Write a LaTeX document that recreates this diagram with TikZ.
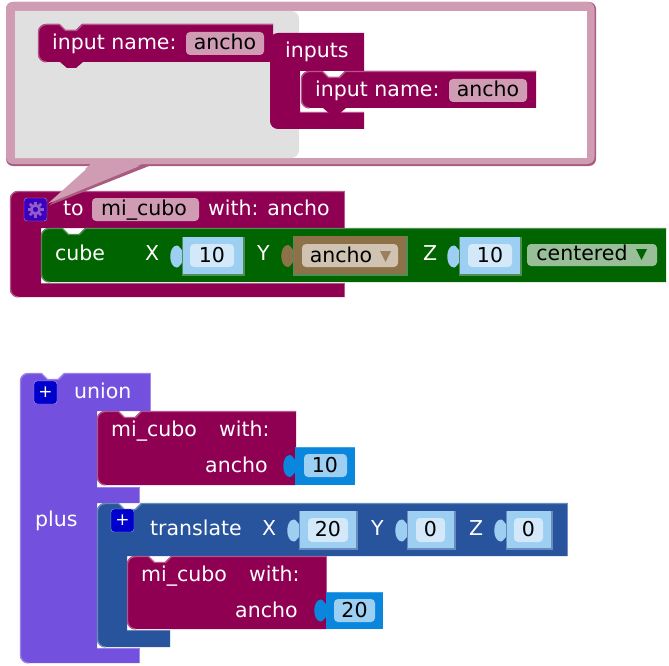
\documentclass[tikz,border=0pt]{standalone}
\usepackage{fontspec}
\setmainfont{DejaVu Sans}
\usepackage{tikz}
\usetikzlibrary{
    arrows.meta,
    positioning,
    calc
}
\definecolor{procmag}{HTML}{900052}
\definecolor{proclight}{HTML}{B5568A}
\definecolor{bubblepink}{HTML}{D09CB3}
\definecolor{bubbledark}{HTML}{A85C80}
\definecolor{cubegreen}{HTML}{006400}
\definecolor{cubelight}{HTML}{4F8F55}
\definecolor{unionpurple}{HTML}{7450DF}
\definecolor{unionlight}{HTML}{9A80E8}
\definecolor{transblue}{HTML}{27549C}
\definecolor{translight}{HTML}{6A8CBC}
\definecolor{numlight}{HTML}{9CCFF2}
\definecolor{numfield}{HTML}{D3E9F9}
\definecolor{numblue}{HTML}{0A86DC}
\definecolor{numtop}{HTML}{3FA3E8}
\definecolor{varbrown}{HTML}{8C7149}
\definecolor{varfield}{HTML}{D0C3B2}
\definecolor{fieldgreen}{HTML}{99BF99}
\definecolor{gearblue}{HTML}{3A00BE}
\definecolor{gearcog}{HTML}{8F5CC8}
\definecolor{plusblue}{HTML}{0000CC}
% pieces of block outlines
\newcommand{\roundfoot}[2]{(#1+8,#2) .. controls (#1+3.5,#2) and (#1,#2-3.5) .. (#1,#2-8)}
\newcommand{\roundnotch}[2]{.. controls (#1,#2+3.5) and (#1+3.5,#2) .. (#1+8,#2) -- (#1+21,#2) -- (#1+27,#2+6) -- (#1+38,#2+6) -- (#1+44,#2)}
% a value socket with its puzzle tab
\newcommand{\valueblock}[6]{%
  \fill[#6] (#1+1,{(#2+#4)/2-6}) .. controls (#1-3,{(#2+#4)/2-6}) and (#1-3,{(#2+#4)/2-11}) .. (#1-6,{(#2+#4)/2-11}) .. controls (#1-15,{(#2+#4)/2-11}) and (#1-15,{(#2+#4)/2+11}) .. (#1-6,{(#2+#4)/2+11}) .. controls (#1-3,{(#2+#4)/2+11}) and (#1-3,{(#2+#4)/2+6}) .. (#1+1,{(#2+#4)/2+6}) -- cycle;
  \fill[#5] (#1-1,#2) rectangle (#3,#4);
  \fill[#6] (#1,#2) rectangle (#3-2,#4-2);
}
\begin{document}
\begin{tikzpicture}[
    x=1pt,y=-1pt,
    label/.style={text=white,font=\fontsize{20.5}{22}\selectfont,inner sep=0pt,anchor=base west},
    fieldtext/.style={text=black,font=\fontsize{20.5}{22}\selectfont,inner sep=0pt,anchor=base},
    field/.style={rounded corners=4pt},
    edge/.style={line width=1.3pt},
    btntext/.style={text=white,font=\fontsize{17}{18}\selectfont,inner sep=0pt}
]
\useasboundingbox (0,0) rectangle (669,666);

% procedure definition
\fill[procmag] \roundfoot{10}{297} -- (10,199) .. controls (10,194.5) and (13.5,191) .. (18,191) -- (344.5,191) -- (344.5,228) -- (41,228) -- (41,283) -- (344.5,283) -- (344.5,297) -- cycle;
\draw[edge,draw=proclight] \roundfoot{10.5}{297} -- (10.5,199) .. controls (10.5,194.5) and (14,191.5) .. (18,191.5) -- (344.5,191.5);
\draw[edge,draw=proclight] (41,283.5) -- (344.5,283.5);

% mutator bubble
\fill[bubbledark] (93,166) -- (149,166) -- (49,205.5) -- cycle;
\fill[bubblepink] (93,163) -- (147,163) -- (48,203.5) -- cycle;
\fill[bubbledark,rounded corners=7pt] (6,2) rectangle (596,166);
\fill[bubblepink,rounded corners=7pt] (6,2) rectangle (594.5,164);
\fill[bubblepink] (93,162) -- (147,162) -- (130,169) -- (85,169) -- cycle;
\fill[white] (15,11) rectangle (587,158);
\fill[black!12] (15,11) -- (291,11) .. controls (295.5,11) and (299,14.5) .. (299,19) -- (299,150) .. controls (299,154.5) and (295.5,158) .. (291,158) -- (15,158) -- cycle;

% input block in the flyout
\fill[procmag] \roundfoot{38}{62} -- (38,32) \roundnotch{38}{24} -- (273,24) -- (273,62) -- (83,62) -- (76,68) -- (67,68) -- (60,62) -- cycle;
\draw[edge,draw=proclight] \roundfoot{38.5}{62} -- (38.5,32) \roundnotch{38.5}{24.5} -- (273,24.5);

% inputs container
\fill[procmag] \roundfoot{270}{129} -- (270,41) .. controls (270,36.5) and (273.5,33) .. (278,33) -- (364,33) -- (364,71) -- (300,71) -- (300,112) -- (364,112) -- (364,129) -- cycle;
\draw[edge,draw=proclight] (300,112.5) -- (364,112.5);
\fill[procmag] \roundfoot{301}{108} -- (301,79) \roundnotch{301}{71} -- (536,71) -- (536,108) -- (346,108) -- (339,114) -- (330,114) -- (323,108) -- cycle;
\draw[edge,draw=proclight] \roundfoot{301.5}{108} -- (301.5,79) \roundnotch{301.5}{71.5} -- (536,71.5);

\fill[bubblepink,field] (186,32) rectangle (264,55);
\fill[bubblepink,field] (449,79) rectangle (527,102);

\node[label] (flyname) at (52,50) {input name:};
\node[fieldtext] (flyarg) at (225,50) {ancho};
\node[label] (inputslab) at (285,58) {inputs};
\node[label] (innername) at (315,97) {input name:};
\node[fieldtext] (innerarg) at (488,97) {ancho};

% cube statement
\fill[cubegreen] \roundfoot{41}{282} -- (41,236) \roundnotch{41}{228} -- (666,228) -- (666,282) -- cycle;
\draw[edge,draw=cubelight] \roundfoot{41.5}{282} -- (41.5,236) \roundnotch{41.5}{228.5} -- (666,228.5);

% gear button
\draw[draw=gearcog!70!white,fill=gearblue,rounded corners=3pt] (24,198) rectangle (47,221);
\foreach \a in {0,45,...,315}
    \draw[gearcog,line width=2.8pt] (35.5,209.5) ++(\a:5) -- ++(\a:3);
\draw[gearcog,line width=2.8pt] (35.5,209.5) circle[radius=4.2];

\fill[bubblepink,field] (92,198) rectangle (199,221);
\node[label] (tolab) at (63,215) {to};
\node[fieldtext] (procname) at (144,215) {mi\_cubo};
\node[label] (withlab) at (208,215) {with: ancho};

\node[label] (cubelab) at (55,260) {cube};
\node[label] (xlab) at (145,260) {X};
\node[label] (ylab) at (257,260) {Y};
\node[label] (zlab) at (423,260) {Z};

\valueblock{183}{237}{245}{276}{cubelight}{numlight}
\valueblock{294}{236}{408}{276}{cubelight}{varbrown}
\valueblock{460}{237}{522}{276}{cubelight}{numlight}
\fill[numfield,field] (190,244) rectangle (234,267);
\fill[numfield,field] (468,244) rectangle (512,267);
\fill[varfield,field] (302,244) rectangle (398,267);
\fill[fieldgreen,field] (527,244) rectangle (657,266);
\fill[varbrown!80!varfield] (380,251) -- (391,251) -- (385.5,262) -- cycle;
\fill[cubegreen] (636,249) -- (647,249) -- (641.5,260) -- cycle;
\node[fieldtext] (xval) at (212,262) {10};
\node[fieldtext] (yval) at (341,262) {ancho};
\node[fieldtext] (zval) at (490,262) {10};
\node[fieldtext] (centerval) at (582,260) {centered};

% union block
\fill[unionpurple] \roundfoot{20}{663} -- (20,381) \roundnotch{20}{373} -- (150.5,373) -- (150.5,411) -- (97,411) -- (97,487) -- (139.5,487) -- (139.5,503) -- (97,503) -- (97,648) -- (139.5,648) -- (139.5,663) -- cycle;
\draw[edge,draw=unionlight] \roundfoot{20.5}{663} -- (20.5,381) \roundnotch{20.5}{373.5} -- (150.5,373.5);
\draw[edge,draw=unionlight] (97,487.5) -- (139.5,487.5);
\draw[edge,draw=unionlight] (97,648.5) -- (139.5,648.5);

\draw[draw=unionlight!70!white,fill=plusblue,rounded corners=3pt] (34,381) rectangle (57,404);
\node[btntext] (unionplus) at (45.5,392) {+};
\node[label] (unionlab) at (74,398) {union};
\node[label] (pluslab) at (35,526) {plus};

% first call block
\fill[procmag] \roundfoot{97}{485} -- (97,419) \roundnotch{97}{411} -- (296,411) -- (296,485) -- cycle;
\draw[edge,draw=proclight] \roundfoot{97.5}{485} -- (97.5,419) \roundnotch{97.5}{411.5} -- (296,411.5);
\valueblock{296}{447}{355}{485}{numblue}{numblue}
\draw[edge,draw=numtop] (296,447.5) -- (355,447.5);
\fill[numlight,field] (304,454) rectangle (347,477);
\node[fieldtext] (val1) at (325,472) {10};
\node[label] (call1a) at (111,436) {mi\_cubo};
\node[label] (call1c) at (219,436) {with:};
\node[label] (call1b) at (205,472) {ancho};

% translate block
\fill[transblue] \roundfoot{97}{647} -- (97,511) \roundnotch{97}{503} -- (567.5,503) -- (567.5,556) -- (127,556) -- (127,630) -- (170,630) -- (170,647) -- cycle;
\draw[edge,draw=translight] \roundfoot{97.5}{647} -- (97.5,511) \roundnotch{97.5}{503.5} -- (567.5,503.5);
\draw[edge,draw=translight] (127,630.5) -- (170,630.5);
\draw[draw=translight!70!white,fill=plusblue,rounded corners=3pt] (111,509) rectangle (134,532);
\node[btntext] (transplus) at (122.5,520) {+};

\node[label] (translab) at (150,535) {translate};
\node[label] (tx) at (262,535) {X};
\node[label] (ty) at (371,535) {Y};
\node[label] (tz) at (469,535) {Z};
\valueblock{300}{511}{358}{550}{translight}{numlight}
\valueblock{408}{511}{456}{550}{translight}{numlight}
\valueblock{507}{511}{553}{550}{translight}{numlight}
\fill[numfield,field] (308,518) rectangle (348,542);
\fill[numfield,field] (416,518) rectangle (445,542);
\fill[numfield,field] (514,518) rectangle (543,542);
\node[fieldtext] (tv1) at (328,536) {20};
\node[fieldtext] (tv2) at (430.5,536) {0};
\node[fieldtext] (tv3) at (528.5,536) {0};

% second call block
\fill[procmag] \roundfoot{127}{629} -- (127,564) \roundnotch{127}{556} -- (326.5,556) -- (326.5,629) -- cycle;
\draw[edge,draw=proclight] \roundfoot{127.5}{629} -- (127.5,564) \roundnotch{127.5}{556.5} -- (326.5,556.5);
\valueblock{327}{592}{383}{629}{numblue}{numblue}
\draw[edge,draw=numtop] (327,592.5) -- (383,592.5);
\fill[numlight,field] (334,599) rectangle (375,622);
\node[fieldtext] (val2) at (354.5,617) {20};
\node[label] (call2a) at (141,581) {mi\_cubo};
\node[label] (call2c) at (249,581) {with:};
\node[label] (call2b) at (235,617) {ancho};

\end{tikzpicture}
\end{document}
